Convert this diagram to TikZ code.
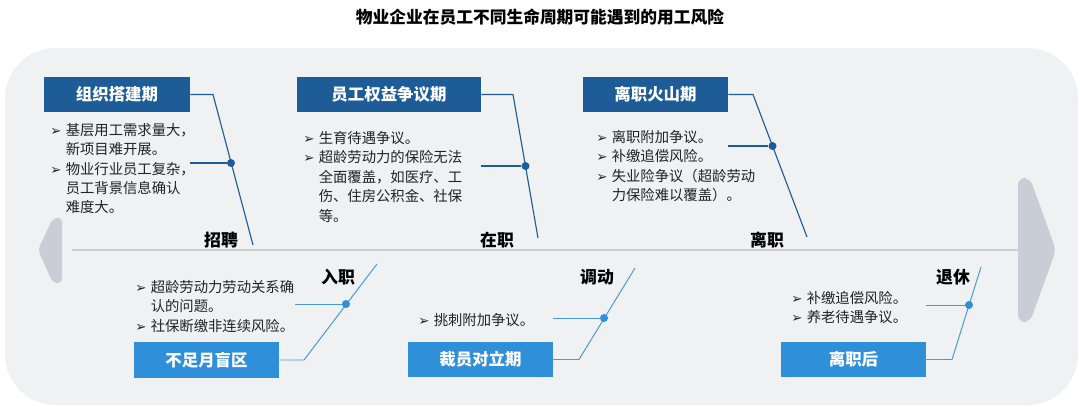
\documentclass[tikz,border=0pt]{standalone}
\usepackage{fontspec}
\setmainfont{Noto Sans CJK SC}
\newfontfamily\arrowfont{DejaVu Sans}
\usetikzlibrary{calc}
\definecolor{bggray}{HTML}{F0F1F3}
\definecolor{agray}{HTML}{C9CED6}
\definecolor{lgray}{HTML}{C8CDD3}
\definecolor{dblue}{HTML}{1D5C96}
\definecolor{lblue}{HTML}{2F8FD8}
\definecolor{tblack}{HTML}{222222}
\newcommand{\bul}{\makebox[11pt][l]{\arrowfont\fontsize{9.5}{9}\selectfont ➢}}
\newcommand{\ind}{\hspace*{11pt}}

\begin{document}
\begin{tikzpicture}[x=0.025cm, y=-0.025cm,
  topbox/.style={fill=dblue, text=white, font=\fontsize{11.7}{14}\selectfont\bfseries, minimum height=0.875cm, inner sep=0pt},
  botbox/.style={fill=lblue, text=white, font=\fontsize{11.7}{14}\selectfont\bfseries, minimum width=3.625cm, minimum height=0.875cm, inner sep=0pt},
  txt/.style={font=\fontsize{10.2}{13.8}\selectfont, text=tblack, align=left, inner sep=0pt, anchor=north west},
  lab/.style={font=\fontsize{12}{14}\selectfont\bfseries, text=black, inner sep=0pt},
  dbone/.style={dblue, line width=0.8pt},
  lbone/.style={lblue!90!white, line width=0.7pt},
  ddot/.style={circle, fill=dblue, minimum size=0.2cm, inner sep=0pt},
  ldot/.style={circle, fill=lblue, minimum size=0.2cm, inner sep=0pt},
]
  \useasboundingbox (0,0) rectangle (1080,407);
  % background and axis
  \fill[bggray, rounded corners=36pt] (5,48) rectangle (1078,405);
  \fill[agray, rounded corners=3pt] (62,218) -- (53,218) -- (38,250) -- (53,283) -- (62,283) -- cycle;
  \fill[agray, rounded corners=5pt] (1018,178) -- (1030,178) -- (1056,250) -- (1030,322) -- (1018,322) -- cycle;
  \coordinate (axL) at (72,250);
  \coordinate (axR) at (1046,250);
  \draw[lgray, line width=2.1pt] (axL) -- (axR);

  \node[font=\fontsize{11.9}{14}\selectfont\bfseries] (title) at (540,17) {物业企业在员工不同生命周期可能遇到的用工风险};

  % Top: stage boxes
  \node[topbox, minimum width=3.65cm] (b1) at (117,94.5) {组织搭建期};
  \node[topbox, minimum width=4.6cm] (b2) at (389,94.5) {员工权益争议期};
  \node[topbox, minimum width=3.625cm] (b3) at (655.5,94.5) {离职火山期};

  \node[txt] (p1) at (50,123) {\bul 基层用工需求量大，\\ \ind 新项目难开展。\\ \bul 物业行业员工复杂，\\ \ind 员工背景信息确认\\ \ind 难度大。};
  \node[txt] (p2) at (303,131) {\bul 生育待遇争议。\\ \bul 超龄劳动力的保险无法\\ \ind 全面覆盖，如医疗、工\\ \ind 伤、住房公积金、社保\\ \ind 等。};
  \node[txt] (p3) at (596,130) {\bul 离职附加争议。\\ \bul 补缴追偿风险。\\ \bul 失业险争议（超龄劳动\\ \ind 力保险难以覆盖）。};

  \node[lab] (l1) at (221,240) {招聘};
  \node[lab] (l2) at (497,240) {在职};
  \node[lab] (l3) at (767,240) {离职};

  \coordinate (k1) at (213,94.5); \coordinate (e1) at (253,245);
  \coordinate (k2) at (513,94.5); \coordinate (e2) at (538,238);
  \coordinate (k3) at (753,94.5); \coordinate (e3) at (807,237);
  \draw[dbone] (b1.east) -- (k1) -- (e1);
  \draw[dbone] (b2.east) -- (k2) -- (e2);
  \draw[dbone] (b3.east) -- (k3) -- (e3);
  \node[ddot] (d1) at (231,163) {};
  \node[ddot] (d2) at (525.5,166) {};
  \node[ddot] (d3) at (772.5,146) {};
  \draw[dbone] (b1.east |- d1) -- (d1);
  \draw[dbone] (b2.east |- d2) -- (d2);
  \draw[dbone] (b3.east |- d3) -- (d3);

  % Bottom: stage boxes
  \node[botbox] (m1) at (206.5,360) {不足月盲区};
  \node[botbox] (m2) at (480.5,359.5) {裁员对立期};
  \node[botbox] (m3) at (853.5,359.5) {离职后};

  \node[txt] (q1) at (135,280) {\bul 超龄劳动力劳动关系确\\ \ind 认的问题。\\ \bul 社保断缴非连续风险。};
  \node[txt] (q2) at (418,313) {\bul 挑刺附加争议。};
  \node[txt] (q3) at (791,291) {\bul 补缴追偿风险。\\ \bul 养老待遇争议。};

  \node[lab] (l4) at (338,277) {入职};
  \node[lab] (l5) at (597,277) {调动};
  \node[lab] (l6) at (953,277) {退休};

  \coordinate (k4) at (304,360); \coordinate (e4) at (377,264);
  \coordinate (k5) at (579,359.5); \coordinate (e5) at (635,268);
  \coordinate (k6) at (952,359.5); \coordinate (e6) at (981,267);
  \draw[lbone] (m1.east) -- (k4) -- (e4);
  \draw[lbone] (m2.east) -- (k5) -- (e5);
  \draw[lbone] (m3.east) -- (k6) -- (e6);
  \node[ldot] (d4) at (346,304) {};
  \node[ldot] (d5) at (604,318) {};
  \node[ldot] (d6) at (969,305) {};
  \coordinate (s4) at (295,304);
  \draw[lbone] (s4) -- (d4);
  \draw[lbone] (m2.east |- d5) -- (d5);
  \draw[lbone] (m3.east |- d6) -- (d6);
\end{tikzpicture}
\end{document}
